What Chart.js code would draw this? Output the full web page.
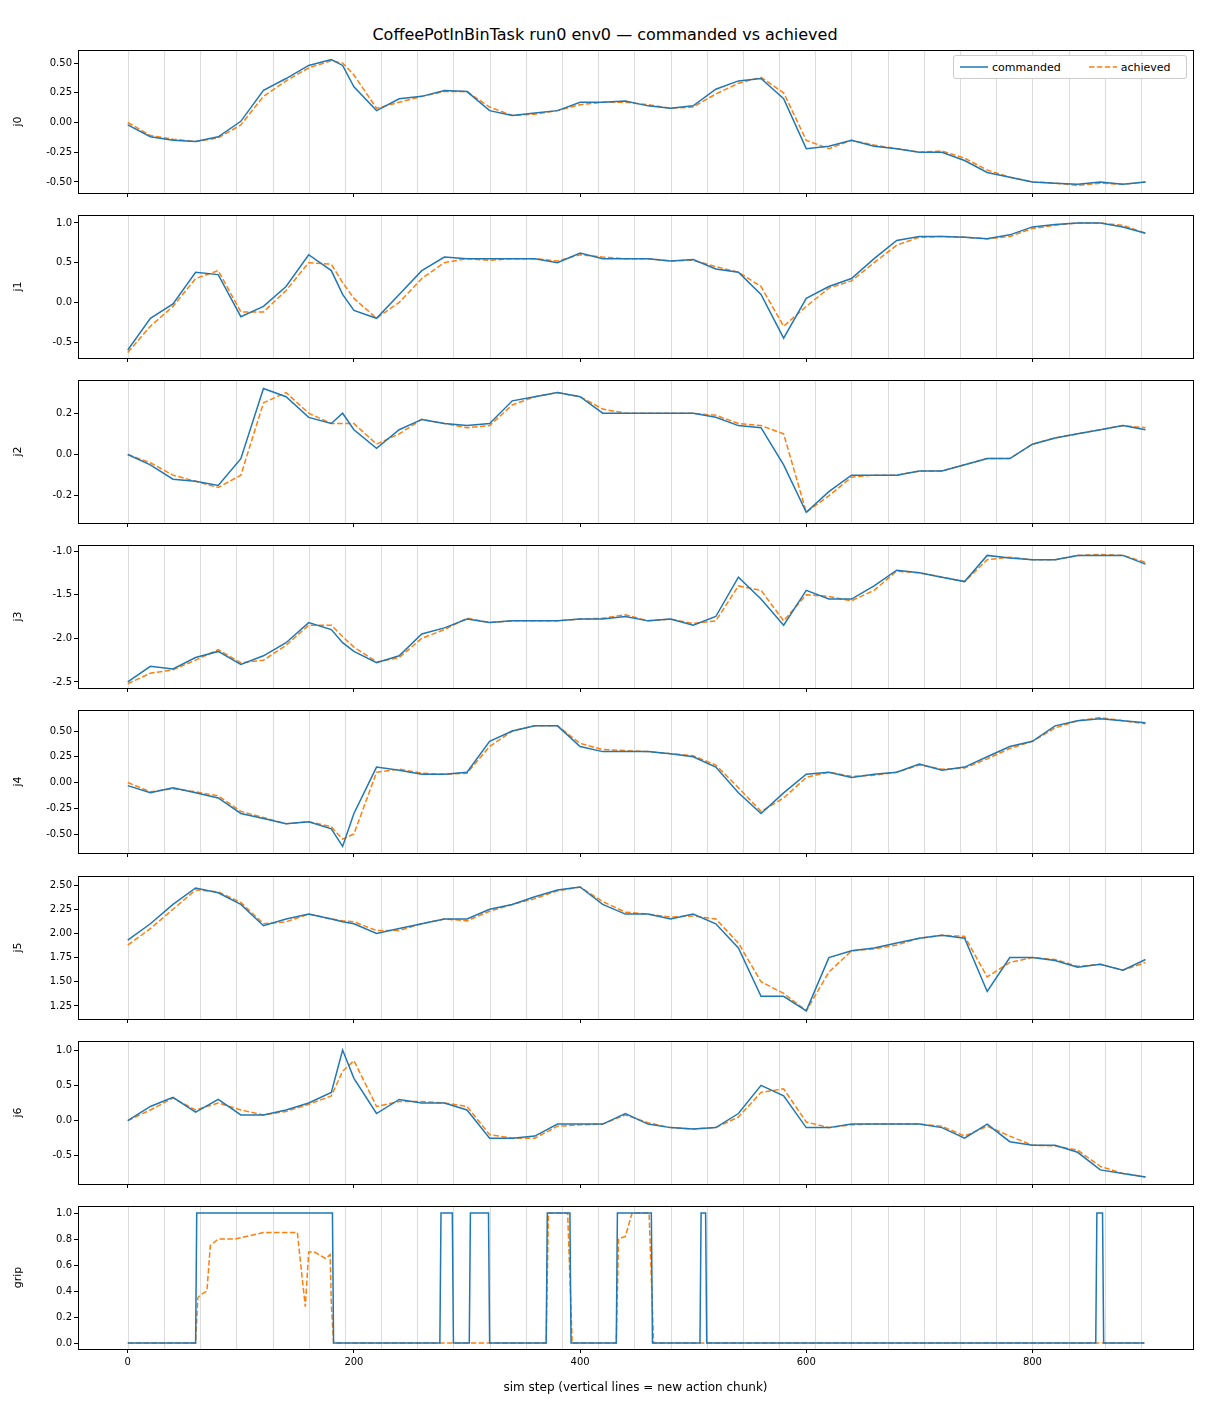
<!DOCTYPE html>
<html>
<head>
<meta charset="utf-8">
<script src="https://cdn.jsdelivr.net/npm/chart.js@4.4.1/dist/chart.umd.min.js"></script>
<style>
  body { margin: 0; background: #fff; font-family: "DejaVu Sans", sans-serif; }
  #wrap { position: relative; width: 1210px; height: 1408px; }
  .panel { position: absolute; left: 0; width: 1210px; }
  #title { position: absolute; top: 25px; left: 0; width: 1210px; text-align: center; font-size: 16px; color: #000; }
  #legend { position: absolute; left: 953px; top: 55px; width: 232px; height: 22px; border: 1px solid #ccc; border-radius: 3px;
            background: #fff; font-size: 11px; display: flex; align-items: center; }
  #legend span { margin-right: 14px; }
</style>
</head>
<body>
<div id="wrap">
  <div id="title">CoffeePotInBinTask run0 env0 — commanded vs achieved</div>
</div>
<script>
// Sample steps shared by the joint series
const steps = [0,20,40,60,80,100,120,140,160,180,190,200,220,240,260,280,300,320,340,360,380,400,420,440,460,480,500,520,540,560,580,600,620,640,660,680,700,720,740,760,780,800,820,840,860,880,900];

const j0Cmd = [-0.02,-0.12,-0.15,-0.16,-0.12,0.01,0.27,0.37,0.48,0.53,0.48,0.3,0.1,0.2,0.22,0.27,0.26,0.1,0.06,0.08,0.1,0.17,0.17,0.18,0.14,0.12,0.14,0.28,0.35,0.37,0.2,-0.22,-0.2,-0.15,-0.2,-0.22,-0.25,-0.25,-0.32,-0.42,-0.46,-0.5,-0.51,-0.52,-0.5,-0.52,-0.5];
const j0Ach = [0.0,-0.11,-0.14,-0.16,-0.13,-0.02,0.22,0.35,0.46,0.52,0.5,0.4,0.12,0.17,0.22,0.26,0.26,0.13,0.06,0.07,0.1,0.15,0.17,0.17,0.15,0.12,0.13,0.24,0.33,0.38,0.25,-0.15,-0.22,-0.15,-0.19,-0.22,-0.25,-0.24,-0.3,-0.4,-0.46,-0.5,-0.51,-0.53,-0.51,-0.52,-0.5];

const j1Cmd = [-0.6,-0.2,-0.02,0.38,0.35,-0.18,-0.05,0.2,0.6,0.4,0.1,-0.1,-0.2,0.1,0.4,0.57,0.55,0.55,0.55,0.55,0.5,0.62,0.55,0.55,0.55,0.52,0.54,0.42,0.38,0.1,-0.45,0.05,0.2,0.3,0.55,0.78,0.83,0.83,0.82,0.8,0.85,0.95,0.98,1.0,1.0,0.95,0.87];
const j1Ach = [-0.63,-0.3,-0.05,0.3,0.4,-0.12,-0.12,0.15,0.5,0.48,0.25,0.05,-0.2,0.0,0.3,0.5,0.55,0.53,0.55,0.55,0.52,0.6,0.57,0.55,0.55,0.52,0.53,0.45,0.38,0.2,-0.3,-0.05,0.18,0.27,0.5,0.72,0.82,0.83,0.82,0.8,0.83,0.93,0.97,1.0,1.0,0.97,0.87];

const j2Cmd = [0.0,-0.05,-0.12,-0.13,-0.15,-0.02,0.32,0.28,0.18,0.15,0.2,0.12,0.03,0.12,0.17,0.15,0.14,0.15,0.26,0.28,0.3,0.28,0.2,0.2,0.2,0.2,0.2,0.18,0.14,0.13,-0.05,-0.28,-0.18,-0.1,-0.1,-0.1,-0.08,-0.08,-0.05,-0.02,-0.02,0.05,0.08,0.1,0.12,0.14,0.12];
const j2Ach = [0.0,-0.04,-0.1,-0.13,-0.16,-0.1,0.25,0.3,0.2,0.15,0.15,0.15,0.05,0.1,0.17,0.15,0.13,0.14,0.24,0.28,0.3,0.28,0.22,0.2,0.2,0.2,0.2,0.19,0.15,0.14,0.1,-0.28,-0.2,-0.11,-0.1,-0.1,-0.08,-0.08,-0.05,-0.02,-0.02,0.05,0.08,0.1,0.12,0.14,0.13];

const j3Cmd = [-2.5,-2.32,-2.35,-2.22,-2.15,-2.3,-2.2,-2.05,-1.82,-1.9,-2.05,-2.15,-2.28,-2.2,-1.95,-1.88,-1.78,-1.82,-1.8,-1.8,-1.8,-1.78,-1.78,-1.75,-1.8,-1.78,-1.85,-1.75,-1.3,-1.55,-1.85,-1.45,-1.55,-1.55,-1.4,-1.22,-1.25,-1.3,-1.35,-1.05,-1.08,-1.1,-1.1,-1.05,-1.05,-1.05,-1.15];
const j3Ach = [-2.52,-2.4,-2.36,-2.25,-2.13,-2.28,-2.25,-2.08,-1.85,-1.85,-1.98,-2.1,-2.27,-2.22,-2.0,-1.9,-1.77,-1.82,-1.8,-1.8,-1.8,-1.78,-1.77,-1.73,-1.8,-1.78,-1.83,-1.8,-1.4,-1.45,-1.8,-1.5,-1.52,-1.57,-1.45,-1.23,-1.25,-1.3,-1.35,-1.1,-1.07,-1.1,-1.1,-1.05,-1.04,-1.05,-1.13];

const j4Cmd = [-0.03,-0.1,-0.05,-0.1,-0.15,-0.3,-0.35,-0.4,-0.38,-0.45,-0.62,-0.3,0.15,0.12,0.08,0.08,0.1,0.4,0.5,0.55,0.55,0.35,0.3,0.3,0.3,0.28,0.25,0.15,-0.1,-0.3,-0.1,0.08,0.1,0.05,0.08,0.1,0.18,0.12,0.15,0.25,0.35,0.4,0.55,0.6,0.62,0.6,0.58];
const j4Ach = [0.0,-0.09,-0.06,-0.09,-0.13,-0.28,-0.34,-0.4,-0.38,-0.43,-0.55,-0.5,0.1,0.13,0.09,0.08,0.09,0.35,0.5,0.55,0.55,0.38,0.32,0.31,0.3,0.28,0.26,0.17,-0.05,-0.28,-0.15,0.05,0.1,0.06,0.07,0.1,0.17,0.13,0.14,0.23,0.33,0.4,0.53,0.6,0.63,0.6,0.57];

const j5Cmd = [1.93,2.1,2.3,2.47,2.42,2.3,2.08,2.15,2.2,2.15,2.12,2.1,2.0,2.05,2.1,2.15,2.15,2.25,2.3,2.38,2.45,2.48,2.3,2.2,2.2,2.15,2.2,2.1,1.85,1.35,1.35,1.2,1.75,1.82,1.85,1.9,1.95,1.98,1.95,1.4,1.75,1.75,1.72,1.65,1.68,1.62,1.73];
const j5Ach = [1.88,2.05,2.25,2.45,2.43,2.32,2.1,2.12,2.2,2.15,2.13,2.12,2.03,2.03,2.1,2.15,2.13,2.23,2.3,2.36,2.44,2.48,2.33,2.22,2.2,2.17,2.18,2.15,1.9,1.5,1.38,1.2,1.6,1.82,1.84,1.88,1.95,1.98,1.97,1.55,1.7,1.75,1.73,1.66,1.68,1.62,1.7];

const j6Cmd = [0.0,0.2,0.33,0.12,0.3,0.08,0.08,0.15,0.25,0.4,1.0,0.6,0.1,0.3,0.25,0.25,0.15,-0.25,-0.25,-0.22,-0.05,-0.05,-0.05,0.1,-0.05,-0.1,-0.12,-0.1,0.1,0.5,0.35,-0.1,-0.1,-0.05,-0.05,-0.05,-0.05,-0.1,-0.25,-0.05,-0.3,-0.35,-0.35,-0.45,-0.7,-0.75,-0.8];
const j6Ach = [0.0,0.15,0.32,0.15,0.25,0.15,0.08,0.13,0.23,0.35,0.7,0.85,0.2,0.27,0.27,0.25,0.2,-0.2,-0.25,-0.25,-0.08,-0.06,-0.05,0.08,-0.03,-0.1,-0.12,-0.1,0.05,0.4,0.45,-0.02,-0.1,-0.06,-0.05,-0.05,-0.05,-0.08,-0.22,-0.08,-0.22,-0.35,-0.36,-0.42,-0.65,-0.75,-0.8];

const gripCmdSteps = [0,60,61,181,182,276,277,287,288,302,303,319,320,370,371,391,392,432,433,463,464,506,507,511,512,856,857,862,863,899];
const gripCmdVals  = [0,0,1,1,0,0,1,1,0,0,1,1,0,0,1,1,0,0,1,1,0,0,1,1,0,0,1,1,0,0];
const gripAchSteps = [0,60,62,66,70,73,80,95,120,150,153,157,160,165,175,179,180,182,370,372,389,391,393,432,434,440,446,461,463,465,899];
const gripAchVals  = [0,0,0.35,0.38,0.4,0.75,0.8,0.8,0.85,0.85,0.6,0.28,0.7,0.7,0.65,0.68,0.3,0,0,1,1,0.5,0,0,0.8,0.82,1,1,0.5,0,0];

// Action chunk boundaries (every 32 sim steps)
const chunkSteps = [];
for (let s = 0; s <= 896; s += 32) chunkSteps.push(s);

const xTicks = [0, 200, 400, 600, 800];

const panels = [
  { label: 'j0', top: 50, min: -0.593, max: 0.61, ticks: [-0.5,-0.25,0,0.25,0.5], dec: 2, cmd: j0Cmd, ach: j0Ach },
  { label: 'j1', top: 215, min: -0.70, max: 1.10, ticks: [-0.5,0,0.5,1.0], dec: 1, cmd: j1Cmd, ach: j1Ach },
  { label: 'j2', top: 380, min: -0.332, max: 0.361, ticks: [-0.2,0,0.2], dec: 1, cmd: j2Cmd, ach: j2Ach },
  { label: 'j3', top: 545, min: -2.569, max: -0.931, ticks: [-2.5,-2.0,-1.5,-1.0], dec: 1, cmd: j3Cmd, ach: j3Ach },
  { label: 'j4', top: 710, min: -0.684, max: 0.704, ticks: [-0.5,-0.25,0,0.25,0.5], dec: 2, cmd: j4Cmd, ach: j4Ach },
  { label: 'j5', top: 876, min: 1.115, max: 2.594, ticks: [1.25,1.5,1.75,2.0,2.25,2.5], dec: 2, cmd: j5Cmd, ach: j5Ach },
  { label: 'j6', top: 1041, min: -0.9, max: 1.129, ticks: [-0.5,0,0.5,1.0], dec: 1, cmd: j6Cmd, ach: j6Ach },
  { label: 'grip', top: 1206, min: -0.046, max: 1.054, ticks: [0,0.2,0.4,0.6,0.8,1.0], dec: 1,
    cmdX: gripCmdSteps, cmd: gripCmdVals, achX: gripAchSteps, ach: gripAchVals, last: true }
];

const PANEL_H = 143;
const PAD_TOP = 8;
const PAD_LEFT = 12;

const framePlugin = {
  id: 'frame',
  beforeDatasetsDraw(chart) {
    const { ctx, chartArea: a, scales: { x } } = chart;
    ctx.save();
    ctx.strokeStyle = '#dcdcdc';
    ctx.lineWidth = 1;
    chunkSteps.forEach(s => {
      const px = Math.round(x.getPixelForValue(s)) + 0.5;
      ctx.beginPath();
      ctx.moveTo(px, a.top);
      ctx.lineTo(px, a.bottom);
      ctx.stroke();
    });
    ctx.restore();
  },
  afterDraw(chart) {
    const { ctx, chartArea: a } = chart;
    ctx.save();
    ctx.strokeStyle = '#000';
    ctx.lineWidth = 1;
    ctx.strokeRect(Math.round(a.left) + 0.5, Math.round(a.top) + 0.5, Math.round(a.right - a.left), Math.round(a.bottom - a.top));
    ctx.restore();
  }
};

const wrap = document.getElementById('wrap');

panels.forEach(p => {
  const bottomH = p.last ? 50 : 8;
  const div = document.createElement('div');
  div.className = 'panel';
  div.style.top = (p.top - PAD_TOP) + 'px';
  div.style.height = (PAD_TOP + PANEL_H + bottomH) + 'px';
  const canvas = document.createElement('canvas');
  div.appendChild(canvas);
  wrap.appendChild(div);

  const cmdX = p.cmdX || steps;
  const achX = p.achX || steps;

  new Chart(canvas, {
    type: 'line',
    data: {
      datasets: [
        { label: 'commanded', data: p.cmd.map((v, i) => ({ x: cmdX[i], y: v })),
          borderColor: '#1f77b4', borderWidth: 1.5, pointRadius: 0, tension: 0 },
        { label: 'achieved', data: p.ach.map((v, i) => ({ x: achX[i], y: v })),
          borderColor: '#ff7f0e', borderWidth: 1.5, borderDash: [5.5, 2.4], pointRadius: 0, tension: 0 }
      ]
    },
    options: {
      responsive: true,
      maintainAspectRatio: false,
      animation: false,
      layout: { padding: { top: PAD_TOP, right: 17, left: PAD_LEFT, bottom: 0 } },
      plugins: { legend: { display: false }, tooltip: { enabled: false } },
      scales: {
        x: {
          type: 'linear', min: -44, max: 942,
          afterBuildTicks: s => { s.ticks = xTicks.map(v => ({ value: v })); },
          afterFit: s => { s.height = bottomH; },
          grid: { drawOnChartArea: false, tickLength: 4, color: '#000' },
          border: { display: false },
          ticks: { display: !!p.last, color: '#000', font: { size: 10, family: 'DejaVu Sans' }, padding: 3, maxRotation: 0 },
          title: { display: !!p.last, text: 'sim step (vertical lines = new action chunk)', color: '#000',
                   font: { size: 12, family: 'DejaVu Sans' }, padding: { top: 4 } }
        },
        y: {
          min: p.min, max: p.max,
          afterBuildTicks: s => { s.ticks = p.ticks.map(v => ({ value: v })); },
          afterFit: s => { s.width = 78 - PAD_LEFT; },
          grid: { drawOnChartArea: false, tickLength: 4, color: '#000' },
          border: { display: false },
          ticks: { color: '#000', font: { size: 10, family: 'DejaVu Sans' }, padding: 2,
                   callback: v => v.toFixed(p.dec) },
          title: { display: true, text: p.label, color: '#000', font: { size: 11, family: 'DejaVu Sans' }, padding: 0 }
        }
      }
    },
    plugins: [framePlugin]
  });
});

// Legend inside the first panel
const legend = document.createElement('div');
legend.id = 'legend';
legend.innerHTML =
  '<svg width="34" height="10" style="margin-left:4px"><line x1="2" y1="5" x2="30" y2="5" stroke="#1f77b4" stroke-width="1.5"/></svg>' +
  '<span>commanded</span>' +
  '<svg width="34" height="10" style="margin-left:12px"><line x1="2" y1="5" x2="30" y2="5" stroke="#ff7f0e" stroke-width="1.5" stroke-dasharray="5.5 2.4"/></svg>' +
  '<span>achieved</span>';
wrap.appendChild(legend);
</script>
</body>
</html>
